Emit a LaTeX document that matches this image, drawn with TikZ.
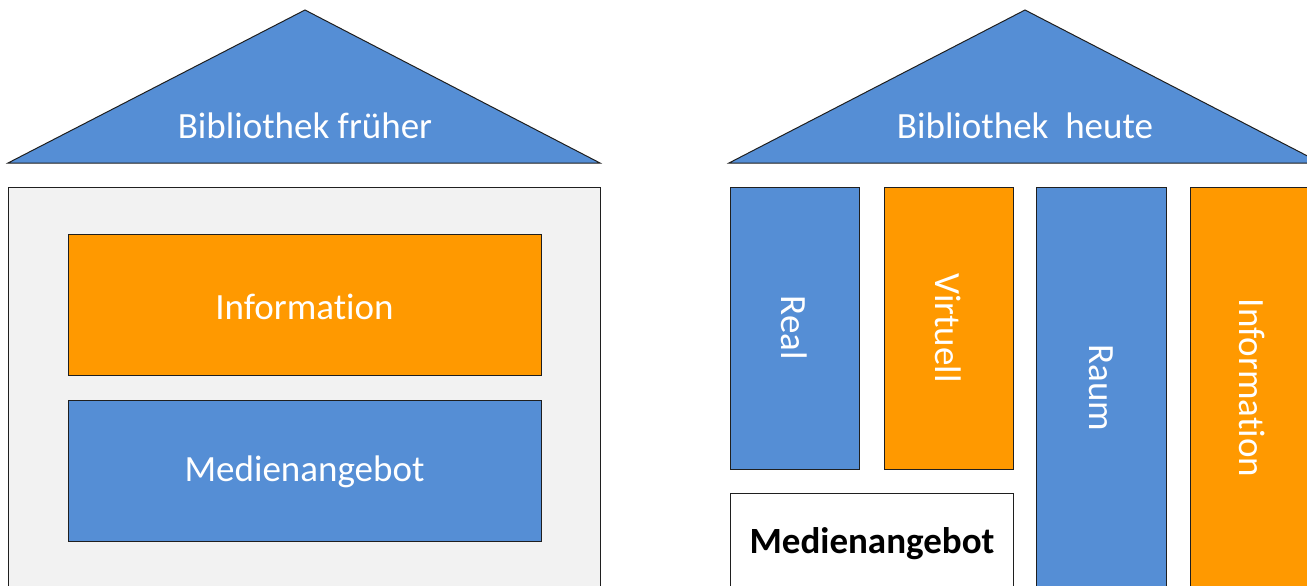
\documentclass[tikz,border=0pt]{standalone}
\usepackage{fontspec}
\setmainfont{Carlito}[Ligatures=NoCommon]
\definecolor{roofblue}{HTML}{558ED5}
\definecolor{pillarorange}{HTML}{FF9900}
\definecolor{panelgrey}{HTML}{F2F2F2}
\definecolor{edgegrey}{HTML}{1F1F1F}
\begin{document}
\begin{tikzpicture}[x=1pt,y=-1pt,
  boxstyle/.style={draw=edgegrey,line width=1pt,inner sep=0pt,outer sep=0pt,anchor=north west,text=white},
  bluebox/.style={boxstyle,fill=roofblue},
  orangebox/.style={boxstyle,fill=pillarorange},
  roofstyle/.style={draw=edgegrey,line width=1pt,fill=roofblue,line join=miter},
  rooftext/.style={text=white,font=\fontsize{37}{42}\selectfont,inner sep=0pt}]
\useasboundingbox (0,0) rectangle (1307,586);
\clip (0,0) rectangle (1307,586);
% left house
\coordinate (lapex) at (305,10);
\coordinate (lbl) at (8,163);
\coordinate (lbr) at (600,163);
\draw[roofstyle] (lapex) -- (lbr) -- (lbl) -- cycle;
\node[rooftext] (ltitle) at (305,126) {Bibliothek früher};
\node[boxstyle,fill=panelgrey,minimum width=592pt,minimum height=420pt] (lbody) at (8,187) {};
\node[orangebox,minimum width=473pt,minimum height=141pt] (linfo) at (68,234) {};
\node[rooftext] at ([yshift=-2pt]linfo.center) {Information};
\node[bluebox,minimum width=473pt,minimum height=141pt] (lmedia) at (68,400) {};
\node[rooftext] at ([yshift=-1pt]lmedia.center) {Medienangebot};
% right house
\coordinate (rapex) at (1025,10);
\coordinate (rbl) at (729,163);
\coordinate (rbr) at (1321,163);
\draw[roofstyle] (rapex) -- (rbr) -- (rbl) -- cycle;
\node[rooftext] (rtitle) at (1025,126) {Bibliothek\ \ heute};
\node[bluebox,minimum width=129pt,minimum height=282pt] (real) at (730,187) {};
\node[rooftext,rotate=-90] at (real.center) {Real};
\node[orangebox,minimum width=129pt,minimum height=282pt] (virt) at (884,187) {};
\node[rooftext,rotate=-90] at (virt.center) {Virtuell};
\node[bluebox,minimum width=130pt,minimum height=410pt] (raum) at (1036,187) {};
\node[rooftext,rotate=-90] at (1101,388) {Raum};
\node[orangebox,minimum width=130pt,minimum height=410pt] (rinfo) at (1190,187) {};
\node[rooftext,rotate=-90] at (1252,388) {Information};
\node[boxstyle,fill=white,minimum width=283pt,minimum height=120pt] (rmedia) at (730,493) {};
\node[text=black,font=\fontsize{37}{42}\selectfont\bfseries,inner sep=0pt] (rmtext) at (872,544) {Medienangebot};
\end{tikzpicture}
\end{document}
